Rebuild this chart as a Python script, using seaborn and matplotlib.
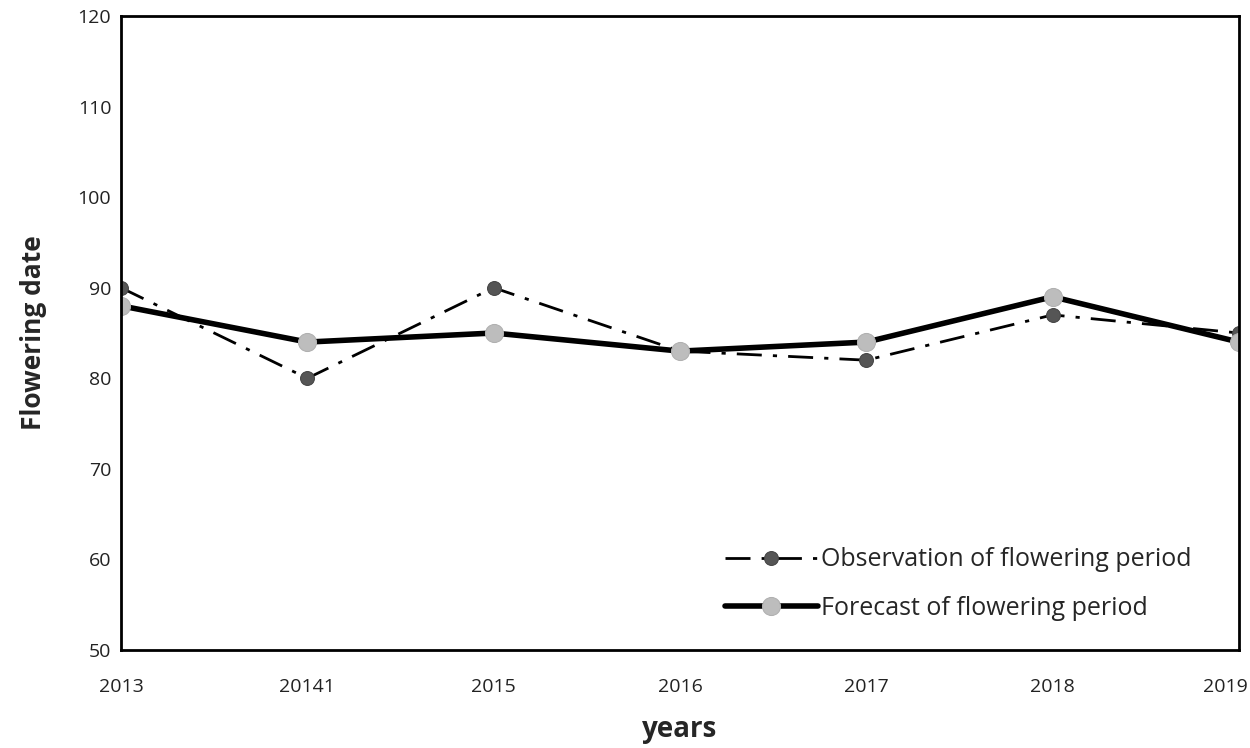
import matplotlib
matplotlib.use("Agg")
import matplotlib.pyplot as plt
import matplotlib.transforms as mtransforms
import seaborn as sns
import numpy as np

years = ["2013", "20141", "2015", "2016", "2017", "2018", "2019"]
observation = [90, 80, 90, 83, 82, 87, 85]
forecast = [88, 84, 85, 83, 84, 89, 84]
yticks = [50, 60, 70, 80, 90, 100, 110, 120]

sns.set_style("white")
plt.rcParams['font.family'] = ['Open Sans', 'DejaVu Sans']

fig = plt.figure(figsize=(12.5, 7.48), dpi=100)
ax = fig.add_axes([0.0968, 0.131, 0.8944, 0.8476])

x = np.arange(len(years))
sns.lineplot(x=x, y=observation, ax=ax, color="black", linewidth=2,
             linestyle=(0, (9, 4, 1.5, 4)), marker="o", markersize=10,
             markerfacecolor="#555555", markeredgecolor="#444444",
             label="Observation of flowering period")
sns.lineplot(x=x, y=forecast, ax=ax, color="black", linewidth=4,
             marker="o", markersize=13, markerfacecolor="#bdbdbd",
             markeredgecolor="#b0b0b0",
             label="Forecast of flowering period")

ax.set_xlim(0, len(years) - 1)
ax.set_ylim(50, 120)
ax.set_xticks(x)
ax.set_xticklabels(years)
ax.set_yticks(yticks)
ax.tick_params(axis="both", labelsize=14, length=0, colors="#222222")
ax.tick_params(axis="x", pad=20)
ax.tick_params(axis="y", pad=7)
last = ax.get_xticklabels()[-1]
last.set_transform(last.get_transform() + mtransforms.ScaledTranslation(-14 / 100, 0, fig.dpi_scale_trans))
for s in ax.spines.values():
    s.set_color("black")
    s.set_linewidth(2)
ax.set_xlabel("years", fontsize=20, fontweight="bold", labelpad=14)
ax.set_ylabel("Flowering date", fontsize=19, fontweight="bold", labelpad=22)

leg = ax.legend(loc="lower right", bbox_to_anchor=(0.978, 0.01), frameon=False,
                fontsize=18, handlelength=3.7, labelspacing=0.95,
                handletextpad=0.15)

fig.savefig("out.png", dpi=100)
